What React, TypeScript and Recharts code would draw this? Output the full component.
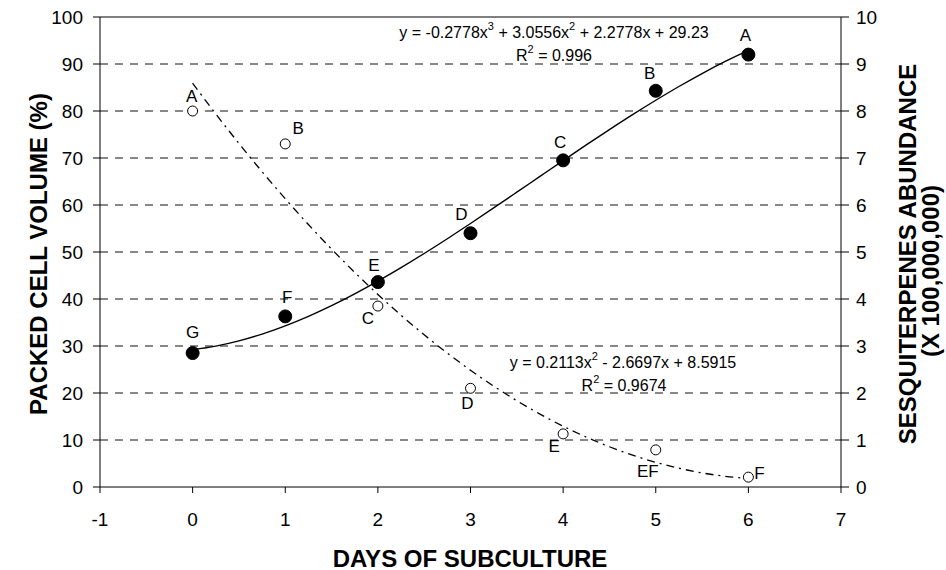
import React from 'react';
import { ComposedChart, Line, Scatter, XAxis, YAxis, ReferenceLine } from 'recharts';

// days of subculture
const days = [0, 1, 2, 3, 4, 5, 6];

// packed cell volume (%), filled dots, left axis
const packedCellVolume = [28.5, 36.3, 43.6, 54, 69.5, 84.3, 92];
const pcvLetters = ['G', 'F', 'E', 'D', 'C', 'B', 'A'];

// sesquiterpenes abundance (x 100,000,000), open dots, right axis
const sesquiterpenes = [8.0, 7.3, 3.85, 2.1, 1.13, 0.79, 0.21];
const sesqLetters = ['A', 'B', 'C', 'D', 'E', 'EF', 'F'];

// trendline coefficients as printed on the chart (constant term first)
const cubicCoef = [29.23, 2.2778, 3.0556, -0.2778];
const quadCoef = [8.5915, -2.6697, 0.2113];
const trendX = [0, 0.25, 0.5, 0.75, 1, 1.25, 1.5, 1.75, 2, 2.25, 2.5, 2.75, 3, 3.25, 3.5, 3.75, 4, 4.25, 4.5, 4.75, 5, 5.25, 5.5, 5.75, 6];

const xTicks = [-1, 0, 1, 2, 3, 4, 5, 6, 7];
const leftTicks = [0, 10, 20, 30, 40, 50, 60, 70, 80, 90, 100];
const rightTicks = [0, 1, 2, 3, 4, 5, 6, 7, 8, 9, 10];
const gridLines = [10, 20, 30, 40, 50, 60, 70, 80, 90];

// letter label offsets (dx, dy) from the dot centre
const pcvLabelOffsets = [[0, -21], [2, -19], [-4, -17], [-9, -19], [-3, -18], [-6, -17], [-3, -19]];
const sesqLabelOffsets = [[-1, -15], [13, -15], [-10, 12], [-3, 15], [-9, 13], [-8, 22], [11, -4]];

const FONT = '"Liberation Sans", Arial, sans-serif';

const polyval = (coef: number[], x: number) => coef.reduce((s, c, i) => s + c * Math.pow(x, i), 0);

const pcvData = days.map((d, i) => ({ x: d, y: packedCellVolume[i], label: pcvLetters[i], i }));
const sesqData = days.map((d, i) => ({ x: d, y: sesquiterpenes[i], label: sesqLetters[i], i }));
const cubicData = trendX.map((x) => ({ x, y: polyval(cubicCoef, x) }));
const quadData = trendX.map((x) => ({ x, y: polyval(quadCoef, x) }));

const tickStyle = { fill: '#000', fontSize: 19, fontFamily: FONT };

const makeDot = (filled: boolean, offsets: number[][]) => (props: any) => {
  const { cx, cy, payload } = props;
  const [dx, dy] = offsets[payload.i];
  return (
    <g>
      <circle cx={cx} cy={cy} r={filled ? 6.5 : 5} fill={filled ? '#000' : '#fff'} stroke="#000" strokeWidth={1} />
      <text x={cx + dx} y={cy + dy} textAnchor="middle" dominantBaseline="central" fontSize={17} fontFamily={FONT} fill="#000">
        {payload.label}
      </text>
    </g>
  );
};

export default function App() {
  return (
    <div style={{ position: 'absolute', left: 0, top: 0, width: 946, height: 570, background: '#fff' }}>
      <ComposedChart width={946} height={570} margin={{ top: 17, right: 45, left: 40, bottom: 43 }}>
        <XAxis
          dataKey="x"
          type="number"
          domain={[-1, 7]}
          ticks={xTicks}
          allowDataOverflow
          height={40}
          stroke="#000"
          tickSize={6}
          tickMargin={20}
          tick={tickStyle}
        />
        <YAxis
          yAxisId="left"
          type="number"
          domain={[0, 100]}
          ticks={leftTicks}
          width={60}
          stroke="#000"
          tickSize={7}
          tickMargin={10}
          tick={tickStyle}
        />
        <YAxis
          yAxisId="right"
          orientation="right"
          type="number"
          domain={[0, 10]}
          ticks={rightTicks}
          width={60}
          stroke="#000"
          tickSize={8}
          tickMargin={7}
          tick={tickStyle}
        />
        {gridLines.map((v) => (
          <ReferenceLine key={v} yAxisId="left" y={v} stroke="#111" strokeDasharray="8 7" />
        ))}
        <ReferenceLine yAxisId="left" y={100} stroke="#000" />
        <Line
          data={cubicData}
          dataKey="y"
          yAxisId="left"
          type="monotone"
          stroke="#000"
          strokeWidth={1.4}
          dot={false}
          isAnimationActive={false}
        />
        <Line
          data={quadData}
          dataKey="y"
          yAxisId="right"
          type="monotone"
          stroke="#000"
          strokeWidth={1.3}
          strokeDasharray="8 5 2 5"
          dot={false}
          isAnimationActive={false}
        />
        <Scatter data={sesqData} dataKey="y" yAxisId="right" shape={makeDot(false, sesqLabelOffsets)} isAnimationActive={false} />
        <Scatter data={pcvData} dataKey="y" yAxisId="left" shape={makeDot(true, pcvLabelOffsets)} isAnimationActive={false} />
      </ComposedChart>
      <svg width={946} height={570} style={{ position: 'absolute', left: 0, top: 0, pointerEvents: 'none' }} fontFamily={FONT}>
        <text x={554} y={32} textAnchor="middle" dominantBaseline="central" fontSize={16}>
          y = -0.2778x<tspan dy={-6} fontSize={11}>3</tspan>
          <tspan dy={6}> + 3.0556x</tspan><tspan dy={-6} fontSize={11}>2</tspan>
          <tspan dy={6}> + 2.2778x + 29.23</tspan>
        </text>
        <text x={554} y={55} textAnchor="middle" dominantBaseline="central" fontSize={16}>
          R<tspan dy={-6} fontSize={11}>2</tspan><tspan dy={6}> = 0.996</tspan>
        </text>
        <text x={623} y={362} textAnchor="middle" dominantBaseline="central" fontSize={16}>
          y = 0.2113x<tspan dy={-6} fontSize={11}>2</tspan>
          <tspan dy={6}> - 2.6697x + 8.5915</tspan>
        </text>
        <text x={624} y={385} textAnchor="middle" dominantBaseline="central" fontSize={16}>
          R<tspan dy={-6} fontSize={11}>2</tspan><tspan dy={6}> = 0.9674</tspan>
        </text>
        <text x={470} y={558} textAnchor="middle" dominantBaseline="central" fontSize={24} fontWeight="bold">
          DAYS OF SUBCULTURE
        </text>
        <text x={38} y={254} transform="rotate(-90 38 254)" textAnchor="middle" dominantBaseline="central" fontSize={24} fontWeight="bold">
          PACKED CELL VOLUME (%)
        </text>
        <text x={907} y={254} transform="rotate(-90 907 254)" textAnchor="middle" dominantBaseline="central" fontSize={24} fontWeight="bold">
          SESQUITERPENES ABUNDANCE
        </text>
        <text x={930} y={271} transform="rotate(-90 930 271)" textAnchor="middle" dominantBaseline="central" fontSize={24} fontWeight="bold">
          (X 100,000,000)
        </text>
      </svg>
    </div>
  );
}
